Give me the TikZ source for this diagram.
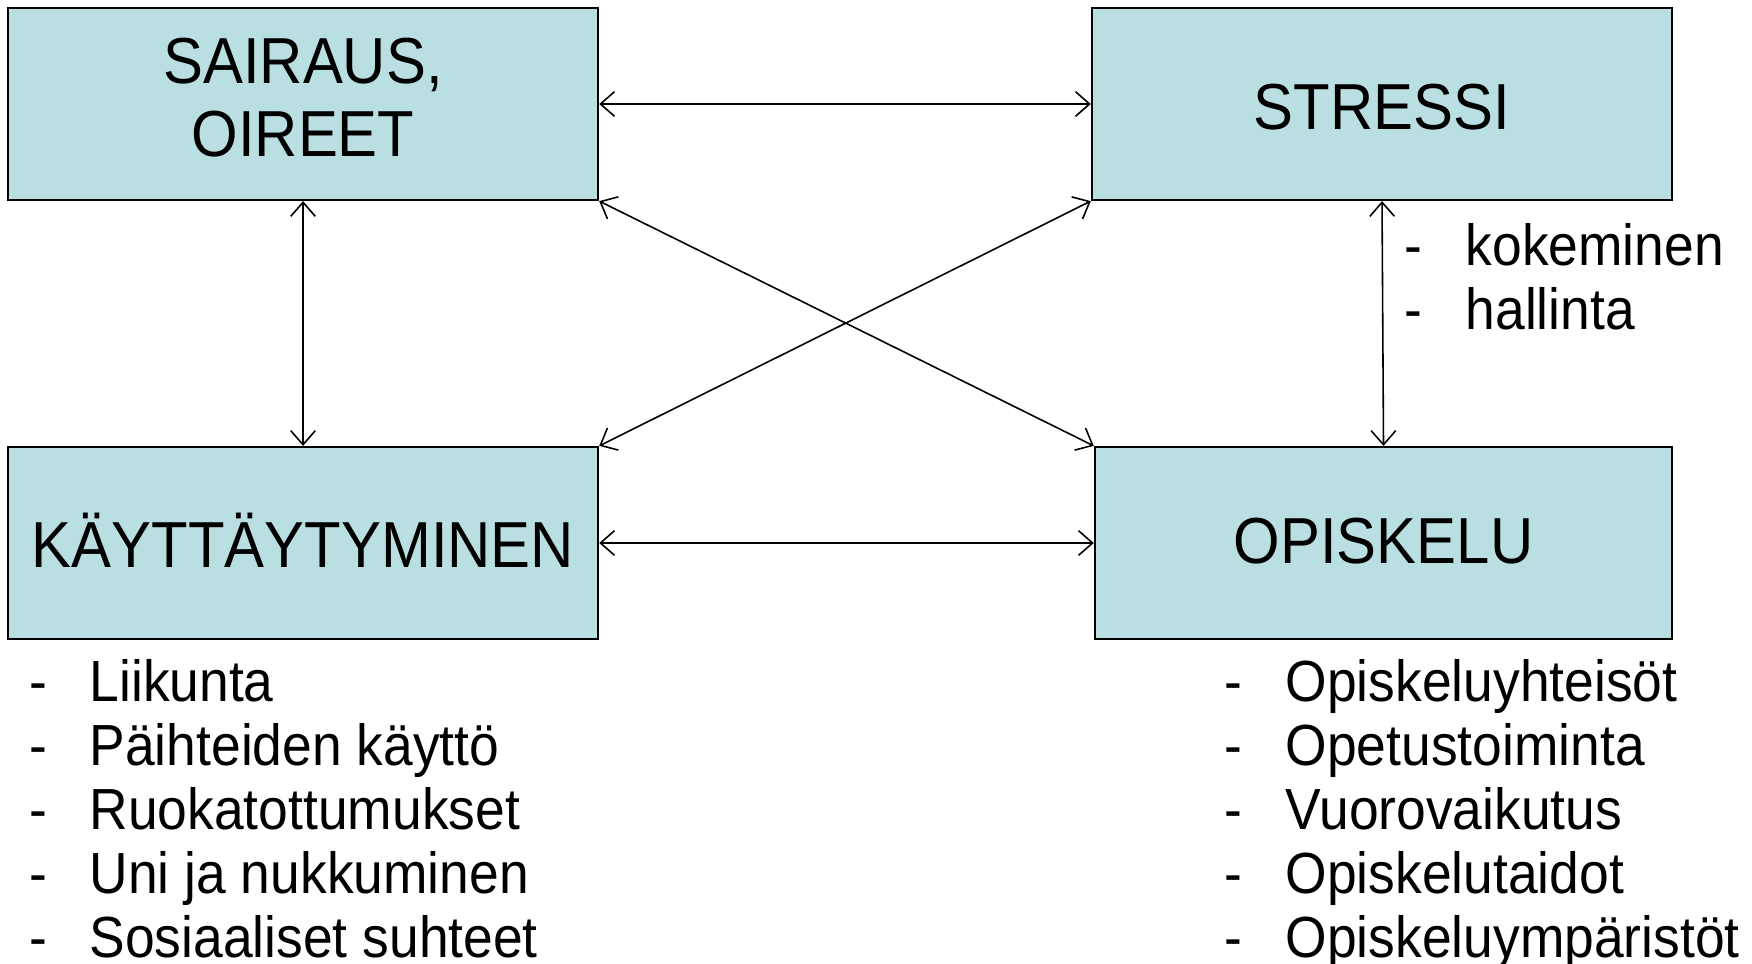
\documentclass[tikz,border=0pt]{standalone}
\usepackage{fontspec}
\setmainfont[FakeStretch=0.92]{Liberation Sans}
\usetikzlibrary{arrows.meta}

\definecolor{boxfill}{RGB}{186,223,227}

\tikzset{
  factor/.style={draw=black, line width=0.6pt, fill=boxfill, inner sep=0pt,
    minimum height=1.92cm, align=center,
    font=\fontsize{18.5}{20.8}\selectfont},
  listitem/.style={anchor=base west, inner sep=0pt, font=\fontsize{16.5}{18}\selectfont},
  link/.style={{Straight Barb[length=4pt,width=7pt]}-{Straight Barb[length=4pt,width=7pt]}, line width=0.45pt}
}

\begin{document}
\begin{tikzpicture}[x=0.01cm, y=-0.01cm]
   \useasboundingbox (0,0) rectangle (1752,964);
   % the four boxes
   \node[factor, minimum width=5.9cm] (sairaus) at (303,104) {};
   \node[factor, minimum width=5.8cm] (stressi) at (1382,104) {};
   \node[factor, minimum width=5.9cm] (kaytt) at (303,543) {};
   \node[factor, minimum width=5.77cm] (opiskelu) at (1383.5,543) {};
   \node[factor, draw=none, fill=none] (sairaustxt) at (303,98) {SAIRAUS,\\OIREET};
   \node[factor, draw=none, fill=none] (stressitxt) at (1382,107) {STRESSI};
   \node[factor, draw=none, fill=none] (kaytttxt) at (303,540) {KÄYTTÄYTYMINEN};
   \node[factor, draw=none, fill=none] (opiskelutxt) at (1383.5,541) {OPISKELU};
   % connections
   \draw[link] (sairaus.east) -- (stressi.west);
   \draw[link] (kaytt.east) -- (opiskelu.west);
   \draw[link] (sairaus.south) -- (kaytt.north);
   \draw[link] (stressi.south) -- (opiskelu.north);
   \draw[link] (sairaus.south east) -- (opiskelu.north west);
   \draw[link] (stressi.south west) -- (kaytt.north east);
   % lists
   \foreach \txt [count=\i] in {kokeminen, hallinta}
     \node[listitem] (str\i) at (1404,{266+64*(\i-1)}) {\makebox[0.61cm][l]{-}\txt};
   \foreach \txt [count=\i] in {Liikunta, Päihteiden käyttö, Ruokatottumukset, Uni ja nukkuminen, Sosiaaliset suhteet}
     \node[listitem] (beh\i) at (29,{701+64*(\i-1)}) {\makebox[0.60cm][l]{-}\txt};
   \foreach \txt [count=\i] in {Opiskeluyhteisöt, Opetustoiminta, Vuorovaikutus, Opiskelutaidot, Opiskeluympäristöt}
     \node[listitem] (opi\i) at (1224,{701+64*(\i-1)}) {\makebox[0.61cm][l]{-}\txt};
\end{tikzpicture}
\end{document}
